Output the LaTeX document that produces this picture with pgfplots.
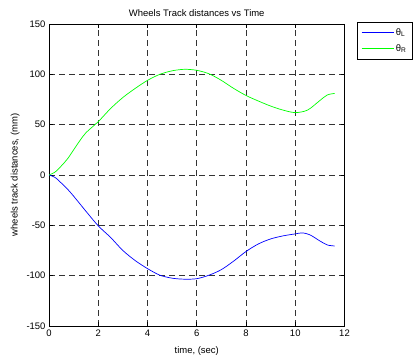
\documentclass[border=0pt]{standalone}
\usepackage{pgfplots}
\pgfplotsset{compat=1.18}
\usepackage{fontspec}
\setmainfont{Liberation Sans}
\begin{document}
\begin{tikzpicture}
\useasboundingbox (-49bp,-34bp) rectangle (368bp,326bp);
\begin{axis}[
  scale only axis, width=295.5bp, height=302bp,
  xmin=0, xmax=12, ymin=-150, ymax=150,
  xtick={0,2,...,12}, ytick={-150,-100,...,150},
  tick align=inside, major tick length=4bp,
  xtick pos=both, ytick pos=both,
  axis line style={line width=0.9bp},
  every tick/.style={black, line width=0.6bp},
  grid=major,
  major grid style={black!80, line width=0.6bp, dash pattern=on 6bp off 4bp},
  /pgf/number format/assume math mode=true,
  tick label style={font=\fontsize{9.5}{11}\selectfont},
  title={Wheels Track distances vs Time},
  title style={font=\fontsize{9.5}{11}\selectfont, yshift=-2bp},
  xlabel={time, (sec)}, ylabel={wheels track distances, (mm)},
  label style={font=\fontsize{9.5}{11}\selectfont},
  xlabel style={yshift=-4bp},
  legend style={at={(1.0423,1.0066)}, anchor=north west,
    font=\fontsize{9.5}{11}\selectfont, inner xsep=4bp, inner ysep=4bp, row sep=4bp},
  legend cell align=left,
  legend image code/.code={\draw[#1] (0bp,0bp) -- (32bp,0bp);},
]
\addplot[color=blue, line width=0.7bp, smooth] coordinates {
(0,0) (0.25,-2.5) (0.5,-8) (0.75,-14) (1.0,-21) (1.5,-36) (2.0,-50.5) (2.5,-62)
(3.0,-75) (3.5,-85) (4.0,-93) (4.5,-99.5) (5.0,-102.5) (5.5,-103.5) (6.0,-103)
(6.5,-99.5) (7.0,-94) (7.5,-85.5) (8.0,-76) (8.5,-68.5) (9.0,-63.5) (9.5,-60.5)
(10.0,-58.5) (10.3,-57.5) (10.6,-59.5) (11.0,-65.5) (11.3,-69.5) (11.6,-70.5)
};
\addlegendentry{θ\textsubscript{L}}
\addplot[color=green, line width=0.7bp, smooth] coordinates {
(0,0) (0.25,3) (0.5,9) (0.75,16) (1.0,25) (1.25,34) (1.5,42) (2.0,53) (2.5,66)
(3.0,77) (3.5,86) (4.0,94) (4.5,100) (5.0,103.5) (5.5,105) (6.0,104) (6.5,100.5)
(7.0,94) (7.5,86) (8.0,79) (8.5,73.5) (9.0,68.5) (9.5,64.5) (10.0,62) (10.5,64.5)
(11.0,74) (11.3,79.5) (11.6,81)
};
\addlegendentry{θ\textsubscript{R}}
\end{axis}
\end{tikzpicture}
\end{document}
